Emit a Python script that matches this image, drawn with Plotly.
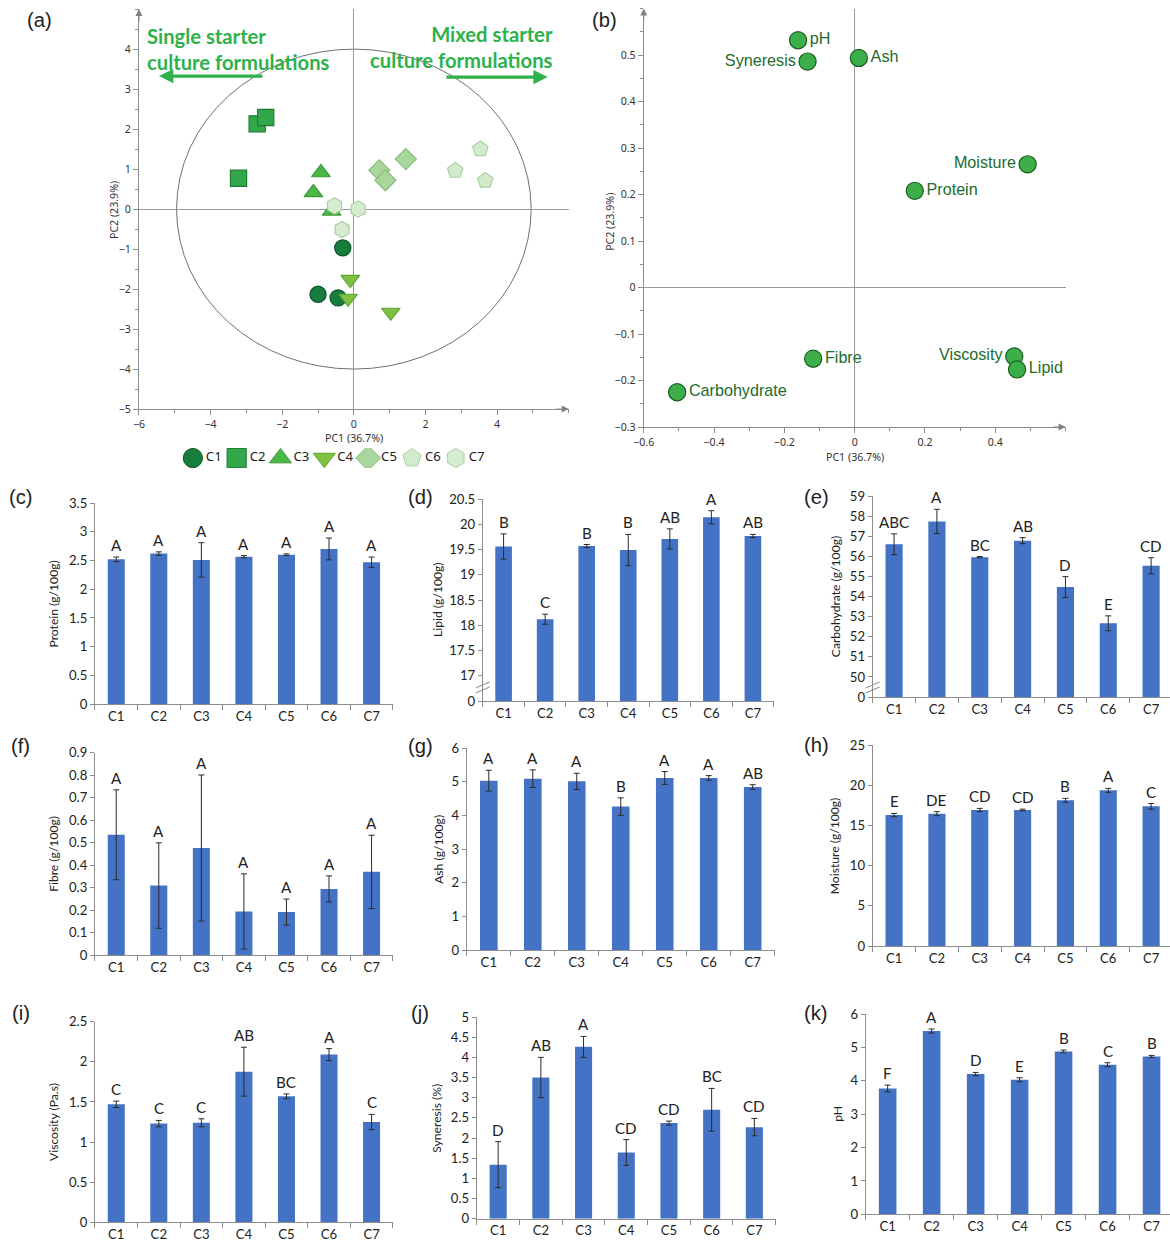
import math
import plotly.graph_objects as go

# Layout positions below are written on a 1170 x 1243 page grid.  The page
# shows the figure with a small offset and scale, so page positions are
# converted to figure pixels with fig = (page - OFF) / SCALE on each axis.
PAGE_W, PAGE_H = 1170, 1243
OFF_X, SCALE_X = 10.0, 0.991
OFF_Y, SCALE_Y = 7.9, 0.9873
W = math.ceil((PAGE_W - OFF_X) / SCALE_X)
H = math.ceil((PAGE_H - OFF_Y) / SCALE_Y)
K = 2 / (SCALE_X + SCALE_Y)  # size factor for fonts and markers

formulations = ["C1", "C2", "C3", "C4", "C5", "C6", "C7"]

# PCA scores (three replicates per formulation)
score_group = ["C1"] * 3 + ["C2"] * 3 + ["C3"] * 3 + ["C4"] * 3 + ["C5"] * 3 + ["C6"] * 3 + ["C7"] * 3
score_pc1 = [-0.31, -1.00, -0.44, -3.22, -2.70, -2.46, -0.92, -1.13, -0.62,
             -0.10, -0.16, 1.03, 0.71, 0.88, 1.45, 3.53, 2.83, 3.67, -0.54, 0.12, -0.33]
score_pc2 = [-0.97, -2.13, -2.22, 0.77, 2.13, 2.29, 0.91, 0.41, -0.05,
             -1.76, -2.23, -2.58, 0.97, 0.72, 1.25, 1.50, 0.96, 0.71, 0.08, 0.00, -0.51]

# PCA loadings
loading_vars = ["pH", "Syneresis", "Ash", "Moisture", "Protein", "Fibre", "Carbohydrate", "Viscosity", "Lipid"]
loading_pc1 = [-0.161, -0.134, 0.012, 0.492, 0.171, -0.118, -0.505, 0.454, 0.462]
loading_pc2 = [0.532, 0.486, 0.494, 0.265, 0.208, -0.153, -0.225, -0.148, -0.176]
loading_side = ["right", "left", "right", "left", "right", "right", "right", "left", "right"]

# Proximate composition and physical properties (mean, SD, Tukey letters)
protein_mean = [2.52, 2.62, 2.51, 2.565, 2.60, 2.70, 2.47]
protein_sd = [0.04, 0.03, 0.30, 0.02, 0.015, 0.19, 0.09]
protein_letters = ["A", "A", "A", "A", "A", "A", "A"]

lipid_mean = [19.56, 18.12, 19.57, 19.49, 19.71, 20.14, 19.77]
lipid_sd = [0.25, 0.10, 0.03, 0.31, 0.20, 0.13, 0.03]
lipid_letters = ["B", "C", "B", "B", "AB", "A", "AB"]

carb_mean = [56.60, 57.74, 55.96, 56.78, 54.47, 52.67, 55.53]
carb_sd = [0.52, 0.60, 0.03, 0.15, 0.52, 0.37, 0.40]
carb_letters = ["ABC", "A", "BC", "AB", "D", "E", "CD"]

fibre_mean = [0.535, 0.309, 0.476, 0.194, 0.191, 0.294, 0.370]
fibre_sd = [0.200, 0.190, 0.325, 0.167, 0.058, 0.058, 0.163]
fibre_letters = ["A", "A", "A", "A", "A", "A", "A"]

ash_mean = [5.03, 5.09, 5.01, 4.26, 5.11, 5.11, 4.84]
ash_sd = [0.31, 0.26, 0.24, 0.26, 0.19, 0.07, 0.07]
ash_letters = ["A", "A", "A", "B", "A", "A", "AB"]

moisture_mean = [16.29, 16.46, 16.92, 16.92, 18.12, 19.36, 17.37]
moisture_sd = [0.20, 0.25, 0.20, 0.10, 0.25, 0.25, 0.35]
moisture_letters = ["E", "DE", "CD", "CD", "B", "A", "C"]

viscosity_mean = [1.47, 1.23, 1.24, 1.877, 1.57, 2.09, 1.25]
viscosity_sd = [0.04, 0.04, 0.05, 0.305, 0.03, 0.075, 0.095]
viscosity_letters = ["C", "C", "C", "AB", "BC", "A", "C"]

syneresis_mean = [1.34, 3.50, 4.26, 1.64, 2.37, 2.70, 2.27]
syneresis_sd = [0.57, 0.50, 0.26, 0.32, 0.05, 0.53, 0.215]
syneresis_letters = ["D", "AB", "A", "CD", "CD", "BC", "CD"]

ph_mean = [3.77, 5.49, 4.20, 4.03, 4.88, 4.48, 4.73]
ph_sd = [0.10, 0.06, 0.05, 0.06, 0.04, 0.06, 0.03]
ph_letters = ["F", "A", "D", "E", "B", "C", "B"]

# Broken-axis tick labels
lipid_tickvals = [16.5, 17, 17.5, 18, 18.5, 19, 19.5, 20, 20.5]
lipid_ticktext = ["0", "17", "17.5", "18", "18.5", "19", "19.5", "20", "20.5"]
carb_tickvals = [49, 50, 51, 52, 53, 54, 55, 56, 57, 58, 59]
carb_ticktext = ["0", "50", "51", "52", "53", "54", "55", "56", "57", "58", "59"]

# ---------------------------------------------------------------------------
BAR_BLUE = "#4472C4"
AXIS_GREY = "#8c8c8c"
BAR_FONT = "Lato, 'Open Sans', sans-serif"
PCA_FONT = "'Noto Sans', 'DejaVu Sans', sans-serif"
ARIAL = "'Liberation Sans', Arial, sans-serif"

group_style = {
    "C1": ("circle", "#177d3c", "#0d5426"),
    "C2": ("square", "#33a84b", "#1f7a33"),
    "C3": ("triangle-up", "#4cb747", "#3a9a3a"),
    "C4": ("triangle-down", "#7fc241", "#5ea232"),
    "C5": ("diamond", "#a9d69c", "#86bf79"),
    "C6": ("pentagon", "#d3ebcc", "#a9d0a0"),
    "C7": ("hexagon", "#d6ecd0", "#a9d0a0"),
}


def fs(size):
    return size * K


def fx(px):
    return ((px - OFF_X) / SCALE_X) / W


def fy(py):
    return 1 - ((py - OFF_Y) / SCALE_Y) / H


def dom_x(l, r):
    return [max(fx(l), 0.0), min(fx(r), 1.0)]


def dom_y(t, b):
    return [max(fy(b), 0.0), min(fy(t), 1.0)]


def px_note(x, y, text, font, **kw):
    """Paper-positioned text centred on page position (x, y)."""
    d = dict(xref="paper", yref="paper", x=fx(x), y=fy(y), text=text, showarrow=False,
             xanchor="center", yanchor="middle", font=font)
    d.update(kw)
    return d


def ax_ids(n):
    if n == 1:
        return "x", "y", "xaxis", "yaxis"
    return f"x{n}", f"y{n}", f"xaxis{n}", f"yaxis{n}"


fig = go.Figure()
layout_axes = {}
annotations = []
shapes = []

# ---------------- (a) PCA score plot ----------------
xa, ya, xk, yk = ax_ids(1)
for g in formulations:
    sym, fill, edge = group_style[g]
    xs = [score_pc1[i] for i in range(len(score_group)) if score_group[i] == g]
    ys = [score_pc2[i] for i in range(len(score_group)) if score_group[i] == g]
    fig.add_trace(go.Scatter(x=xs, y=ys, mode="markers", name=g, xaxis=xa, yaxis=ya,
                             marker=dict(symbol=sym, size=fs(16), color=fill,
                                         line=dict(color=edge, width=1.2)),
                             showlegend=False))

pca_axis_common = dict(showgrid=False, showline=True, linecolor=AXIS_GREY, linewidth=1,
                       ticks="outside", tickcolor=AXIS_GREY, ticklen=5,
                       zeroline=True, zerolinecolor="#9a9a9a", zerolinewidth=1,
                       tickfont=dict(family=PCA_FONT, size=fs(10.5), color="#333"))
layout_axes[xk] = dict(domain=dom_x(138, 568), anchor=ya, range=[-6, 6],
                       tickvals=[-6, -4, -2, 0, 2, 4],
                       minor=dict(dtick=1, ticks="outside", ticklen=3, tickcolor=AXIS_GREY),
                       **pca_axis_common)
layout_axes[yk] = dict(domain=dom_y(9, 409), anchor=xa, range=[-5, 5],
                       tickvals=[-5, -4, -3, -2, -1, 0, 1, 2, 3, 4],
                       minor=dict(dtick=0.5, ticks="outside", ticklen=3, tickcolor=AXIS_GREY),
                       **pca_axis_common)
shapes.append(dict(type="circle", xref=xa, yref=ya, x0=-4.95, x1=4.95, y0=-4, y1=4,
                   line=dict(color="#707070", width=1), layer="below"))

# ---------------- (b) PCA loading plot ----------------
xa, ya, xk, yk = ax_ids(2)
fig.add_trace(go.Scatter(x=loading_pc1, y=loading_pc2, mode="markers+text", text=loading_vars,
                         textposition=["middle " + s for s in loading_side],
                         textfont=dict(family=ARIAL, size=fs(16), color="#236b2c"),
                         xaxis=xa, yaxis=ya, showlegend=False,
                         marker=dict(symbol="circle", size=fs(17), color="#3cae4a",
                                     line=dict(color="#1b5e20", width=1.2))))
layout_axes[xk] = dict(domain=dom_x(643, 1065), anchor=ya, range=[-0.6, 0.6],
                       tickvals=[-0.6, -0.4, -0.2, 0, 0.2, 0.4],
                       minor=dict(dtick=0.1, ticks="outside", ticklen=3, tickcolor=AXIS_GREY),
                       **pca_axis_common)
layout_axes[yk] = dict(domain=dom_y(8.5, 427), anchor=xa, range=[-0.3, 0.6],
                       tickvals=[-0.3, -0.2, -0.1, 0, 0.1, 0.2, 0.3, 0.4, 0.5],
                       minor=dict(dtick=0.05, ticks="outside", ticklen=3, tickcolor=AXIS_GREY),
                       **pca_axis_common)

# axis arrowheads and titles for both PCA panels
pca_title_font = dict(family=PCA_FONT, size=fs(10.5), color="#333")
for n in (1, 2):
    xa, ya, _, _ = ax_ids(n)
    annotations.append(dict(xref=f"{xa} domain", yref=f"{ya} domain", x=1, y=0, ax=-14, ay=0,
                            text="", showarrow=True, arrowhead=2, arrowsize=1.4, arrowwidth=1,
                            arrowcolor="#808080"))
    annotations.append(dict(xref=f"{xa} domain", yref=f"{ya} domain", x=0, y=1, ax=0, ay=14,
                            text="", showarrow=True, arrowhead=2, arrowsize=1.4, arrowwidth=1,
                            arrowcolor="#808080"))
annotations.append(px_note(353, 438, "PC1 (36.7%)", pca_title_font))
annotations.append(px_note(854, 457, "PC1 (36.7%)", pca_title_font))
annotations.append(px_note(113, 210, "PC2 (23.9%)", pca_title_font, textangle=-90))
annotations.append(px_note(609, 222, "PC2 (23.9%)", pca_title_font, textangle=-90))

# starter-culture annotations in (a)
GREEN_TXT = "#2db14b"
annotations.append(dict(xref="paper", yref="paper", x=fx(144), y=fy(49), xanchor="left",
                        yanchor="middle", align="left", showarrow=False,
                        text="<b>Single starter<br>culture formulations</b>",
                        font=dict(family="Lato, sans-serif", size=fs(20), color=GREEN_TXT)))
annotations.append(dict(xref="paper", yref="paper", x=fx(554), y=fy(47), xanchor="right",
                        yanchor="middle", align="right", showarrow=False,
                        text="<b>Mixed starter<br>culture formulations</b>",
                        font=dict(family="Lato, sans-serif", size=fs(20), color=GREEN_TXT)))
annotations.append(dict(xref="paper", yref="paper", x=fx(158), y=fy(76), ax=104 / SCALE_X, ay=0,
                        text="", showarrow=True, arrowhead=2, arrowsize=0.9, arrowwidth=3.2,
                        arrowcolor=GREEN_TXT))
annotations.append(dict(xref="paper", yref="paper", x=fx(547), y=fy(77), ax=-102 / SCALE_X, ay=0,
                        text="", showarrow=True, arrowhead=2, arrowsize=0.9, arrowwidth=3.2,
                        arrowcolor=GREEN_TXT))

# legend row under (a)
xa, ya, xk, yk = ax_ids(12)
for i, g in enumerate(formulations):
    sym, fill, edge = group_style[g]
    fig.add_trace(go.Scatter(x=[i], y=[0], mode="markers+text", text=[g],
                             textposition="middle right",
                             textfont=dict(family=PCA_FONT, size=fs(13), color="#222"),
                             marker=dict(symbol=sym, size=fs(19), color=fill, line=dict(color=edge, width=1)),
                             xaxis=xa, yaxis=ya, showlegend=False, hoverinfo="skip"))
layout_axes[xk] = dict(domain=dom_x(170, 490), anchor=ya, range=[-0.5, 6.8], visible=False)
layout_axes[yk] = dict(domain=dom_y(448, 468), anchor=xa, range=[-1, 1], visible=False)

# ---------------- (c)–(k) bar charts ----------------
bar_panels = [
    ("(c)", "Protein (g/100g)", protein_mean, protein_sd, protein_letters, (94, 392, 503, 704), [0, 3.5], 0.5, None, 53, (20, 497)),
    ("(d)", "Lipid (g/100g)", lipid_mean, lipid_sd, lipid_letters, (482, 773, 499, 701), [16.5, 20.5], None, (lipid_tickvals, lipid_ticktext, 16.76), 436, (420, 497)),
    ("(e)", "Carbohydrate (g/100g)", carb_mean, carb_sd, carb_letters, (872, 1172, 496, 697), [49, 59], None, (carb_tickvals, carb_ticktext, 49.45), 835, (816, 497)),
    ("(f)", "Fibre (g/100g)", fibre_mean, fibre_sd, fibre_letters, (94, 392, 752.7, 955), [0, 0.9], 0.1, None, 53, (20, 746)),
    ("(g)", "Ash (g/100g)", ash_mean, ash_sd, ash_letters, (466, 774, 748, 950), [0, 6], 1, None, 437, (420, 746)),
    ("(h)", "Moisture (g/100g)", moisture_mean, moisture_sd, moisture_letters, (872, 1172, 745, 946), [0, 25], 5, None, 834, (816, 745)),
    ("(i)", "Viscosity (Pa.s)", viscosity_mean, viscosity_sd, viscosity_letters, (94, 392, 1021.7, 1222.3), [0, 2.5], 0.5, None, 53, (20, 1013)),
    ("(j)", "Syneresis (%)", syneresis_mean, syneresis_sd, syneresis_letters, (476, 775, 1017, 1218.7), [0, 5], 0.5, None, 436, (419, 1013)),
    ("(k)", "pH", ph_mean, ph_sd, ph_letters, (865, 1173, 1014, 1214.3), [0, 6], 1, None, 836, (815, 1013)),
]

RIGHT_EDGE = PAGE_W
for k, (tag, ytitle, mean, sd, letters, box, yr, dtick, brk, ytx, tagpos) in enumerate(bar_panels):
    n = k + 3
    xa, ya, xk, yk = ax_ids(n)
    l, r, t, b = box
    # keep equal category spacing when the plot area runs past the page edge
    xr = [-0.5, 6.5]
    if r > RIGHT_EDGE:
        step = (r - l) / 7.0
        xr = [-0.5, -0.5 + (RIGHT_EDGE - l) / step]
        r = RIGHT_EDGE
    fig.add_trace(go.Bar(x=list(range(7)), y=mean, width=0.4, marker=dict(color=BAR_BLUE, line=dict(width=0)),
                         error_y=dict(type="data", array=sd, color="#2b2b2b", thickness=1, width=3),
                         xaxis=xa, yaxis=ya, showlegend=False))
    layout_axes[xk] = dict(domain=dom_x(l, r), anchor=ya, range=xr,
                           tickvals=list(range(7)), ticktext=formulations,
                           showline=True, linecolor=AXIS_GREY, linewidth=1, ticks="",
                           minor=dict(tickvals=[i + 0.5 for i in range(-1, 7)], ticks="outside",
                                      ticklen=5, tickcolor=AXIS_GREY),
                           showgrid=False, zeroline=False,
                           tickfont=dict(family=BAR_FONT, size=fs(13), color="#222"))
    yax = dict(domain=dom_y(t, b), anchor=xa, range=yr, showline=True, linecolor=AXIS_GREY,
               linewidth=1, ticks="outside", ticklen=4, tickcolor=AXIS_GREY, showgrid=False,
               zeroline=False, tickfont=dict(family=BAR_FONT, size=fs(13), color="#222"))
    if brk is None:
        yax.update(tick0=0, dtick=dtick)
    else:
        yax.update(tickvals=brk[0], ticktext=brk[1])
        for off in (0, 5):
            shapes.append(dict(type="line", xref=f"{xa} domain", yref=ya,
                               xsizemode="pixel", xanchor=0, x0=-7, x1=7,
                               ysizemode="pixel", yanchor=brk[2], y0=-5 + off, y1=1 + off,
                               line=dict(color="#888", width=1)))
    layout_axes[yk] = yax
    for i in range(7):
        annotations.append(dict(xref=xa, yref=ya, x=i, y=mean[i] + sd[i], text=letters[i],
                                showarrow=False, xanchor="center", yanchor="bottom", yshift=1,
                                font=dict(family=BAR_FONT, size=fs(15), color="#222")))
    annotations.append(px_note(ytx, (t + b) / 2, ytitle, dict(family=BAR_FONT, size=fs(12), color="#222"),
                               textangle=-90))
    annotations.append(px_note(tagpos[0], tagpos[1], tag, dict(family=ARIAL, size=fs(20), color="#222")))

# panel tags for the PCA plots
annotations.append(px_note(39, 20, "(a)", dict(family=ARIAL, size=fs(20), color="#222")))
annotations.append(px_note(604, 20, "(b)", dict(family=ARIAL, size=fs(20), color="#222")))

fig.update_layout(width=W, height=H, margin=dict(l=0, r=0, t=0, b=0),
                  paper_bgcolor="white", plot_bgcolor="white", showlegend=False,
                  annotations=annotations, shapes=shapes, **layout_axes)

fig.write_html("out.html")
